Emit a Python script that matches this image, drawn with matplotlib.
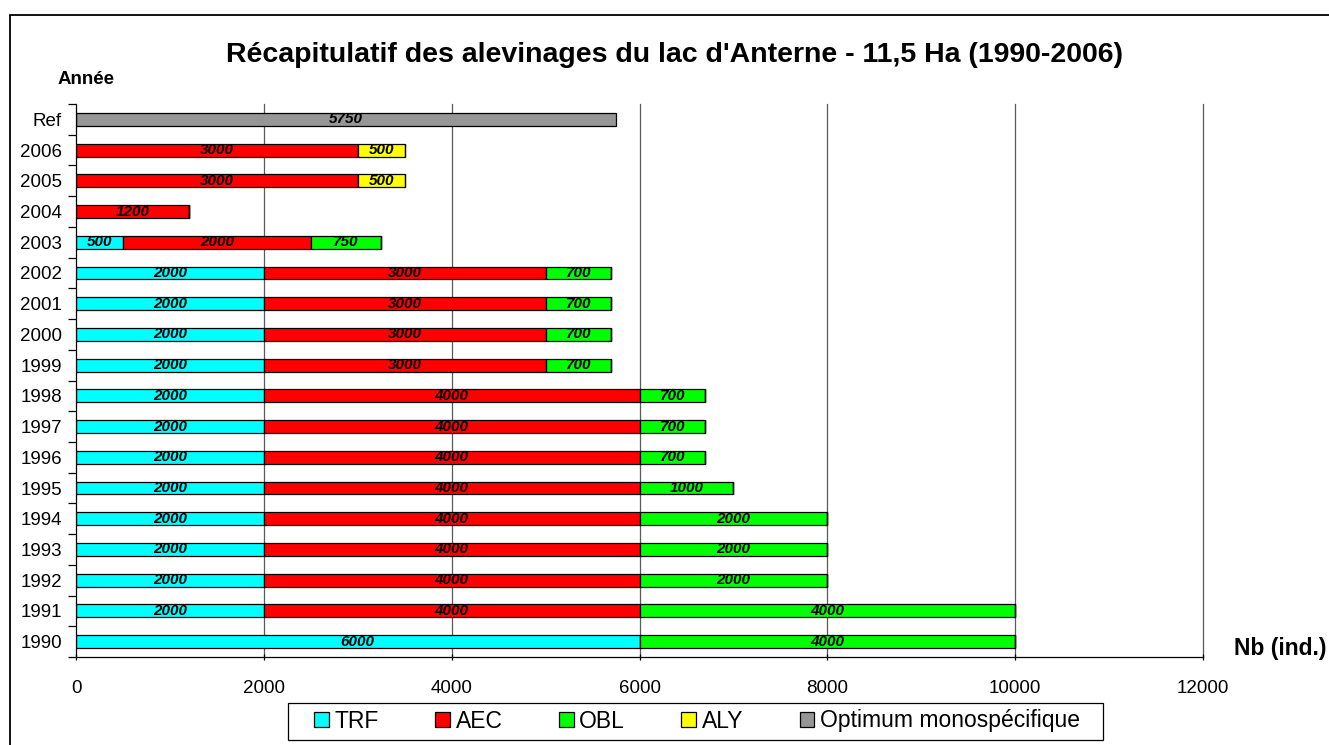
import numpy as np
import matplotlib.pyplot as plt
from matplotlib.patches import Rectangle

plt.rcParams['font.family'] = ['Liberation Sans', 'DejaVu Sans']

years = ['1990', '1991', '1992', '1993', '1994', '1995', '1996', '1997', '1998',
         '1999', '2000', '2001', '2002', '2003', '2004', '2005', '2006', 'Ref']
trf = [6000, 2000, 2000, 2000, 2000, 2000, 2000, 2000, 2000,
       2000, 2000, 2000, 2000, 500, 0, 0, 0, 0]
aec = [0, 4000, 4000, 4000, 4000, 4000, 4000, 4000, 4000,
       3000, 3000, 3000, 3000, 2000, 1200, 3000, 3000, 0]
obl = [4000, 4000, 2000, 2000, 2000, 1000, 700, 700, 700,
       700, 700, 700, 700, 750, 0, 0, 0, 0]
aly = [0, 0, 0, 0, 0, 0, 0, 0, 0, 0, 0, 0, 0, 0, 0, 500, 500, 0]
opt = [0] * 17 + [5750]
xticks = [0, 2000, 4000, 6000, 8000, 10000, 12000]

series = [('TRF', trf, '#00ffff'), ('AEC', aec, '#ff0000'), ('OBL', obl, '#00ff00'),
          ('ALY', aly, '#ffff00'), ('Optimum monospécifique', opt, '#969696')]

W, H = 1329, 745
fig = plt.figure(figsize=(W/100, H/100), dpi=100)
ax = fig.add_axes([76/W, 1-657/H, (1203-76)/W, (657-104)/H])

y = np.arange(len(years))
left = np.zeros(len(years))
for name, vals, col in series:
    vals = np.array(vals, dtype=float)
    ax.barh(y, vals, left=left, height=0.42, color=col, edgecolor='black',
            linewidth=0.9, label=name, zorder=3)
    for i, v in enumerate(vals):
        if v > 0:
            ax.text(left[i] + v/2, y[i], '%d' % v, ha='center', va='center',
                    fontsize=11, fontweight='bold', style='italic', zorder=4)
    left += vals

ax.set_xlim(0, 12000)
ax.set_ylim(-0.5, len(years) - 0.5)
ax.set_xticks(xticks)
ax.set_yticks(y)
ax.set_yticklabels(years)
ax.set_yticks(np.arange(-0.5, len(years), 1), minor=True)
ax.tick_params(axis='y', which='major', length=0, labelsize=13.5, pad=10)
ax.tick_params(axis='y', which='minor', length=6, width=0.9)
ax.tick_params(axis='x', labelsize=13.5, length=5, width=0.9, pad=14, direction='inout')
for xv in xticks[1:]:
    ax.axvline(xv, color='#5a5a5a', linewidth=0.9, zorder=0, clip_on=False)
for s in ['top', 'right']:
    ax.spines[s].set_visible(False)
for s in ['left', 'bottom']:
    ax.spines[s].set_linewidth(0.9)
    ax.spines[s].set_zorder(5)

fig.text(675/W, 1-55/H, "Récapitulatif des alevinages du lac d'Anterne - 11,5 Ha (1990-2006)",
         ha='center', va='center', fontsize=20.5, fontweight='bold')
fig.text(58/W, 1-80/H, 'Année', ha='left', va='center', fontsize=13.5, fontweight='bold')
fig.text(1327/W, 1-649/H, 'Nb (ind.)', ha='right', va='center', fontsize=16.5, fontweight='bold')

# legend entries without frame, box drawn separately (Excel style padding)
handles, labels = ax.get_legend_handles_labels()
leg = fig.legend(handles, labels, loc='center', bbox_to_anchor=(697/W, 1-721/H),
                 ncol=5, fontsize=16.5, frameon=False,
                 handlelength=0.65, handleheight=0.65, handletextpad=0.25, columnspacing=2.45,
                 borderpad=0.25, borderaxespad=0)
fig.patches.append(Rectangle((288/W, 1-740/H), (1103-288)/W, 37/H, transform=fig.transFigure,
                             fill=False, edgecolor='black', linewidth=0.9))

fig.patches.append(Rectangle((10/W, -0.1), 1.2, 1.1 - 15/H, transform=fig.transFigure,
                             fill=False, edgecolor='black', linewidth=1.3))

fig.savefig('out.png', dpi=100)
